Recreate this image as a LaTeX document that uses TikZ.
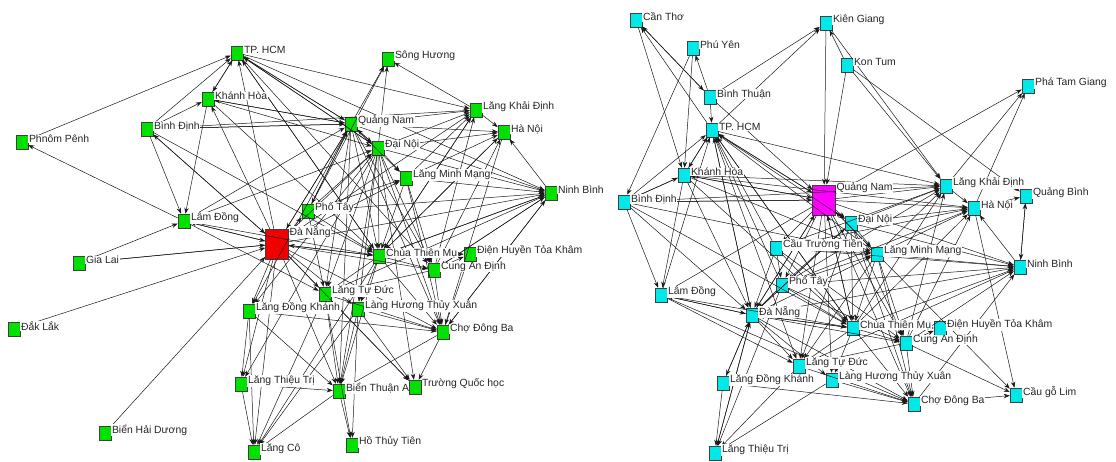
\documentclass[tikz,border=0pt]{standalone}
\usepackage{fontspec}
\setmainfont{Liberation Sans}
\usetikzlibrary{arrows.meta}
\definecolor{gfill}{RGB}{0,225,0}
\definecolor{cfill}{RGB}{0,232,232}
\definecolor{rfill}{RGB}{240,0,0}
\definecolor{mfill}{RGB}{255,0,255}
\tikzset{
  sq/.style={rectangle,draw=black!75,line width=0.5pt,minimum width=12pt,minimum height=14pt,inner sep=0pt},
  gsq/.style={sq,fill=gfill},
  csq/.style={sq,fill=cfill},
  bigred/.style={sq,fill=rfill,minimum width=23pt,minimum height=30pt},
  bigmag/.style={sq,fill=mfill,minimum width=23pt,minimum height=30pt},
  lab/.style={anchor=west,fill=white,inner sep=0.6pt,font=\fontsize{10.4}{11}\selectfont,text=black!85},
  edge/.style={draw=black!90,line width=0.5pt,-{Stealth[length=6pt,width=4.4pt]}}
}
\begin{document}
\begin{tikzpicture}[x=1pt,y=-1pt]
\useasboundingbox[fill=white] (0,0) rectangle (1116,462);
% ---------- left network squares ----------
\foreach \n/\x/\y in {aHCM/237/53,aSH/388/59,aKH/208/99,aQN/351/124,aLKD/476/110,aHN/504/132,aBD/147/129,aPP/22/142,aDNoi/378/148,aLMM/406/178,aNB/551/193,aLD/184/221,aPT/308/211,aCTM/379/256,aDHTK/470/254,aCAD/434/270,aLTD/325/294,aLHTX/358/309,aLDK/249/311,aCDB/443/332,aLTT/241/384,aBTA/339/391,aTQH/415/387,aBHD/105/433,aLC/254/452,aHTT/352/445,aGL/79/263,aDL/14/329}
  \node[gsq] (\n) at (\x,\y) {};
\node[bigred] (aDNg) at (277,244) {};
% ---------- right network squares ----------
\foreach \n/\x/\y in {bCT/636/20,bPY/693/48,bKG/826/23,bKT/847/65,bPTG/1028/86,bBT/710/97,bHCM/712/130,bKH/684/175,bLKD/946/186,bQB/1026/196,bBD/624/202,bHN/974/208,bDNoi/851/223,bCTT/776/248,bLMM/877/254,bNB/1020/267,bLD/661/295,bPT/782/285,bDNg/752/315,bCTM/853/328,bDHTK/940/328,bCAD/906/343,bLTD/799/366,bLHTX/832/380,bLDK/723/383,bCDB/914/404,bCGL/1016/395,bLTT/715/453}
  \node[csq] (\n) at (\x,\y) {};
\node[bigmag] (bQN) at (824,200) {};
% ---------- left edges ----------
\foreach \s/\t in {aPP/aHCM,aLD/aPP,aGL/aLD,aGL/aDNg,aDNg/aGL,aDL/aDNg,aBHD/aDNg,aKH/aLD,aKH/aHCM,aBD/aHCM,aBD/aKH,aHCM/aKH,aDNg/aHCM,aQN/aHCM,aDNoi/aHCM,aCTM/aHCM,aHCM/aLKD,aHCM/aQN,aHCM/aDNoi,aQN/aSH,aDNoi/aSH,aLKD/aSH,aPT/aSH,aQN/aLKD,aDNoi/aLKD,aLMM/aLKD,aCTM/aLKD,aCAD/aLKD,aDNg/aLKD,aLKD/aHN,aNB/aHN,aDNoi/aHN,aQN/aHN,aCTM/aHN,aLMM/aHN,aCAD/aHN,aDNg/aNB,aQN/aNB,aDNoi/aNB,aLMM/aNB,aCTM/aNB,aCAD/aNB,aCDB/aNB,aPT/aNB,aLTD/aNB,aDNg/aQN,aQN/aDNg,aDNg/aDNoi,aDNg/aCTM,aCTM/aDNg,aDNg/aCAD,aDNg/aLMM,aDNg/aPT,aDNg/aLTD,aDNg/aLHTX,aDNg/aLDK,aDNg/aLTT,aDNg/aBTA,aDNg/aCDB,aDNg/aKH,aDNg/aBD,aBD/aDNg,aDNg/aLC,aLD/aDNg,aDNg/aLD,aDNg/aTQH,aQN/aDNoi,aDNoi/aQN,aQN/aCTM,aQN/aLMM,aQN/aCAD,aQN/aPT,aQN/aLTD,aQN/aCDB,aQN/aBTA,aQN/aLDK,aQN/aKH,aQN/aBD,aDNoi/aCTM,aDNoi/aLMM,aDNoi/aCAD,aDNoi/aCDB,aDNoi/aLTD,aDNoi/aLHTX,aDNoi/aBTA,aDNoi/aTQH,aDNoi/aLDK,aDNoi/aLTT,aCTM/aCAD,aCTM/aCDB,aCTM/aLTD,aCTM/aDHTK,aCTM/aBTA,aCTM/aLHTX,aCAD/aCDB,aLHTX/aCDB,aLTD/aCDB,aLDK/aCDB,aCDB/aTQH,aLTD/aTQH,aLDK/aLTT,aLDK/aLC,aLTT/aLC,aLDK/aBTA,aLTD/aBTA,aBTA/aHTT,aLTD/aHTT,aLHTX/aHTT,aLHTX/aBTA,aLTT/aBTA,aCDB/aBTA,aCAD/aLTD,aLMM/aCTM,aLMM/aCAD,aLMM/aCDB,aPT/aCTM,aPT/aLMM,aPT/aDNoi,aPT/aQN,aCDB/aDHTK,aCAD/aDHTK,aBD/aLKD,aKH/aQN,aKH/aDNoi,aBD/aQN,aBD/aCTM,aKH/aCTM,aHCM/aCTM,aHCM/aCAD,aHCM/aNB,aLD/aQN,aLD/aDNoi,aBD/aLD,aLHTX/aLC,aBTA/aLC,aLTD/aLC,aCTM/aLC,aLHTX/aTQH,aNB/aCDB,aNB/aCAD,aNB/aCTM,aLKD/aCTM,aHN/aCTM,aHN/aCDB,aLD/aCTM,aLD/aLTD,aPT/aLTD}
  \draw[edge] (\s) -- (\t);
% ---------- right edges ----------
\foreach \s/\t in {bCT/bBT,bBT/bCT,bCT/bKH,bHCM/bCT,bBT/bPY,bPY/bKH,bPY/bBD,bBT/bKG,bHCM/bKG,bKG/bQN,bKT/bKG,bKT/bQN,bKT/bLKD,bKG/bLKD,bKT/bQB,bQN/bPTG,bLKD/bPTG,bHN/bPTG,bBT/bQN,bBT/bHCM,bHCM/bQN,bQN/bHCM,bHCM/bDNoi,bHCM/bLKD,bHCM/bDNg,bHCM/bCTM,bDNg/bHCM,bKH/bHCM,bLD/bHCM,bBD/bHCM,bHCM/bLTD,bCTM/bHCM,bLMM/bHCM,bPT/bHCM,bCTT/bHCM,bHCM/bKH,bQN/bLKD,bQN/bHN,bQN/bDNoi,bQN/bCTT,bQN/bLMM,bQN/bNB,bQN/bPT,bQN/bDNg,bQN/bCTM,bQN/bCAD,bQN/bCDB,bQN/bLTD,bQN/bLHTX,bQN/bBD,bQN/bKH,bQN/bLD,bBD/bQN,bKH/bQN,bDNg/bQN,bCTM/bQN,bLMM/bQN,bLKD/bHN,bQB/bNB,bNB/bQB,bHN/bQB,bNB/bHN,bLMM/bNB,bCTM/bNB,bDNg/bNB,bDNoi/bNB,bPT/bNB,bCTT/bNB,bCAD/bNB,bLTD/bNB,bCDB/bNB,bLMM/bCGL,bCAD/bCGL,bCDB/bCGL,bHN/bCGL,bDNg/bCTM,bCTM/bDNg,bLD/bDNg,bDNg/bLD,bLD/bCTM,bLDK/bDNg,bLTT/bDNg,bDNg/bLTT,bDNg/bLTD,bDNg/bLDK,bDNg/bCAD,bDNg/bCDB,bKH/bDNg,bBD/bDNg,bDNg/bDNoi,bDNg/bLMM,bDNg/bLHTX,bLDK/bLTT,bLTD/bLTT,bPT/bLTT,bLHTX/bLTT,bLHTX/bCDB,bLTD/bCDB,bLDK/bCDB,bCAD/bCDB,bCTM/bCDB,bDNoi/bCDB,bLMM/bCDB,bDNoi/bCTM,bDNoi/bLMM,bDNoi/bCAD,bDNoi/bHN,bDNoi/bLKD,bDNoi/bPT,bDNoi/bLTD,bDNoi/bDNg,bCTT/bPT,bCTT/bCTM,bCTT/bLMM,bCTT/bCAD,bCTT/bDNg,bCTT/bLKD,bCTT/bHN,bPT/bCTM,bPT/bCAD,bPT/bLMM,bPT/bLKD,bPT/bHN,bPT/bDNg,bLMM/bCTM,bLMM/bCAD,bLMM/bHN,bLMM/bLKD,bLMM/bLTD,bCTM/bCAD,bCTM/bLTD,bCTM/bLHTX,bCTM/bDHTK,bCTM/bHN,bCTM/bLKD,bCAD/bLTD,bCAD/bDHTK,bCAD/bHN,bCAD/bLKD,bKH/bBD,bBD/bKH,bKH/bCTM,bKH/bLMM,bKH/bLKD,bKH/bHN,bBD/bLKD,bBD/bCTM,bBD/bLMM,bBD/bLD,bKH/bLD,bLD/bCDB,bLD/bLTD}
  \draw[edge] (\s) -- (\t);
% ---------- labels ----------
\foreach \n/\t in {aHCM/TP. HCM,aSH/Sông Hương,aKH/Khánh Hòa,aQN/Quảng Nam,aLKD/Lăng Khải Định,aHN/Hà Nội,aBD/Bình Định,aPP/Phnôm Pênh,aDNoi/Đại Nội,aLMM/Lăng Minh Mạng,aNB/Ninh Bình,aLD/Lâm Đồng,aPT/Phố Tây,aDHTK/Điện Huyền Tỏa Khâm,aCTM/Chùa Thiên Mụ,aCAD/Cung An Định,aLHTX/Làng Hương Thủy Xuân,aLTD/Lăng Tự Đức,aLDK/Lăng Đồng Khánh,aCDB/Chợ Đông Ba,aLTT/Lăng Thiệu Trị,aBTA/Biển Thuận An,aTQH/Trường Quốc học,aBHD/Biển Hải Dương,aLC/Lăng Cô,aHTT/Hồ Thủy Tiên,aGL/Gia Lai,aDL/Đắk Lắk}
  \node[lab] (\n-l) at ([yshift=3pt]\n.east) {\t};
\foreach \n/\t in {bCT/Cần Thơ,bPY/Phú Yên,bKG/Kiên Giang,bKT/Kon Tum,bPTG/Phá Tam Giang,bBT/Bình Thuận,bHCM/TP. HCM,bKH/Khánh Hòa,bLKD/Lăng Khải Định,bQB/Quảng Bình,bBD/Bình Định,bHN/Hà Nội,bDNoi/Đại Nội,bCTT/Cầu Trường Tiền,bLMM/Lăng Minh Mạng,bNB/Ninh Bình,bLD/Lâm Đồng,bPT/Phố Tây,bDNg/Đà Nẵng,bDHTK/Điện Huyền Tỏa Khâm,bCTM/Chùa Thiên Mụ,bCAD/Cung An Định,bLHTX/Làng Hương Thủy Xuân,bLTD/Lăng Tự Đức,bLDK/Lăng Đồng Khánh,bCDB/Chợ Đông Ba,bCGL/Cầu gỗ Lim,bLTT/Lăng Thiệu Trị}
  \node[lab] (\n-l) at ([yshift=3pt]\n.east) {\t};
\node[lab] (aDNg-l) at ([yshift=-3pt]aDNg.north east) {Đà Nẵng};
\node[lab] (bQN-l) at ([yshift=-3pt]bQN.north east) {Quảng Nam};
% square drawn again over the neighbouring label, as in the reference
\node[gsq] (aTQH-top) at (aTQH) {};
\end{tikzpicture}
\end{document}
